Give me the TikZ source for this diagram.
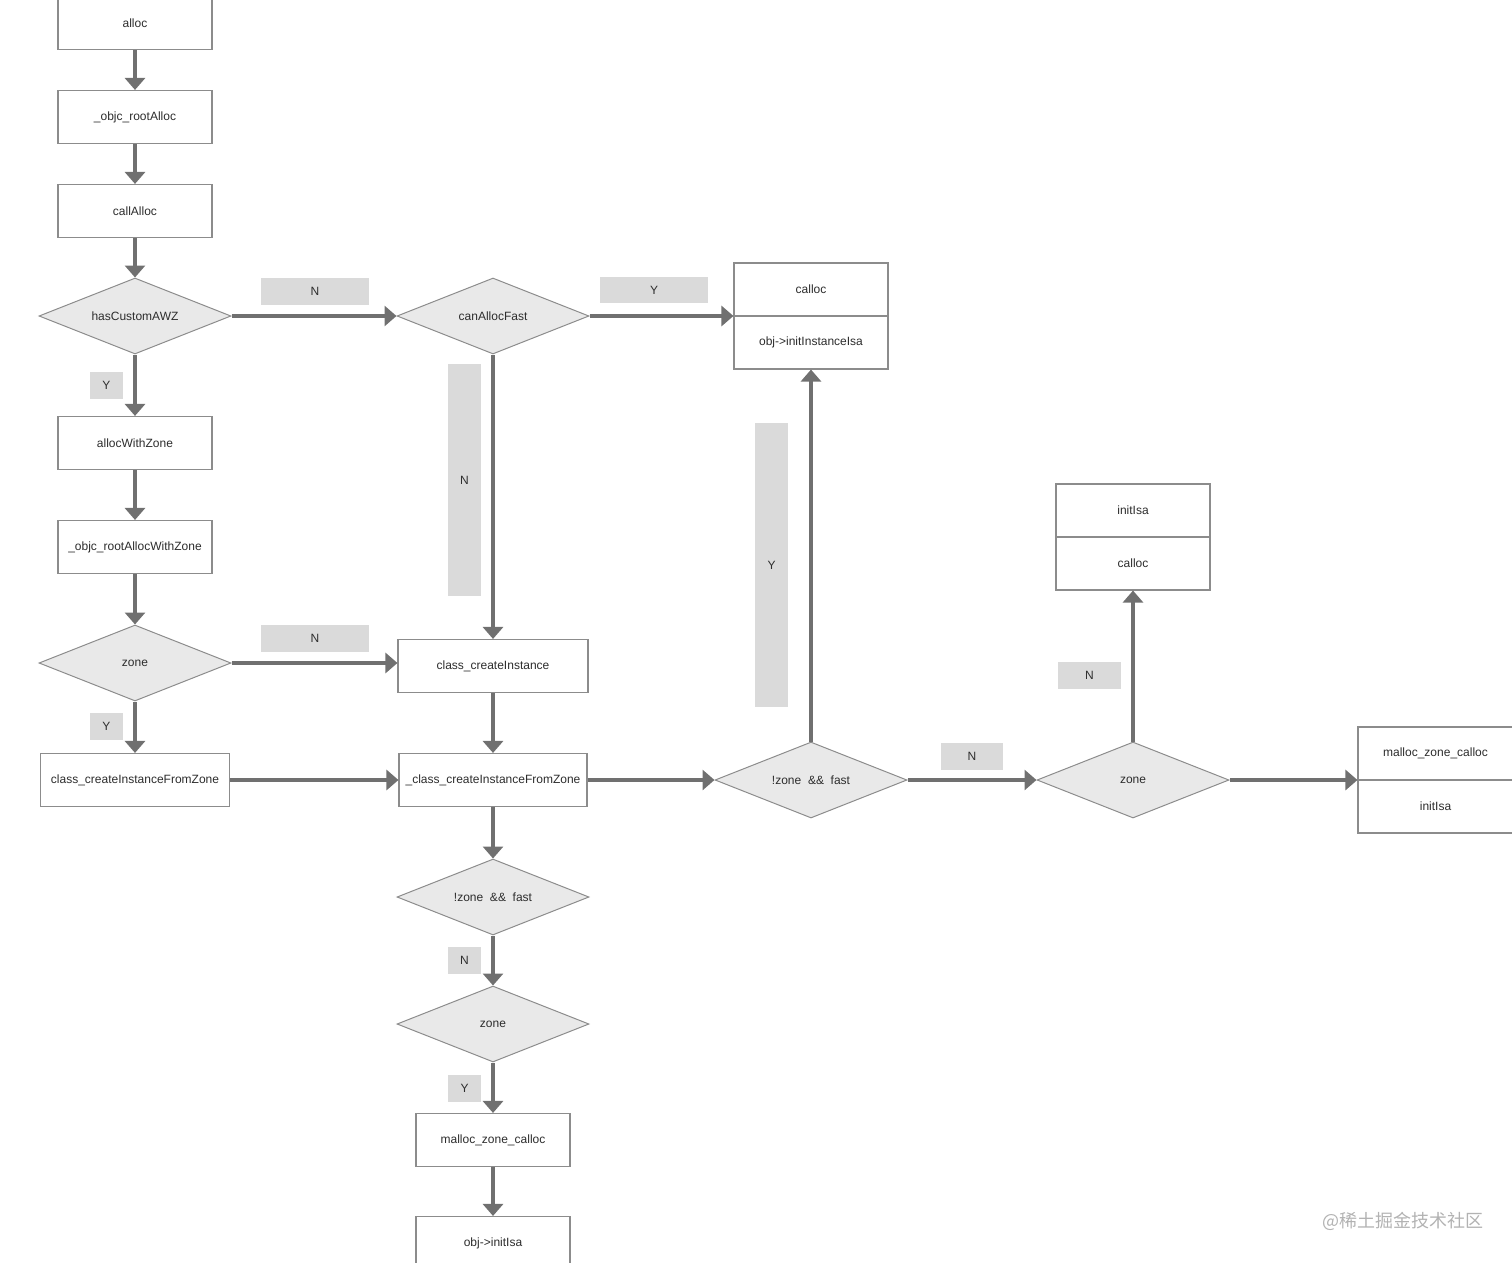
\documentclass[tikz,border=0pt]{standalone}
\usepackage{fontspec}
\setmainfont{Liberation Sans}
\newfontfamily\cjkfont{Noto Sans CJK SC}
\usetikzlibrary{shapes.geometric,arrows.meta,positioning}
\definecolor{fcLine}{RGB}{112,112,112}
\definecolor{fcBorder}{RGB}{140,140,140}
\definecolor{fcText}{RGB}{45,45,45}
\definecolor{fcDiamond}{RGB}{233,233,233}
\definecolor{fcLabel}{RGB}{218,218,218}
\definecolor{fcMark}{RGB}{178,178,178}

\begin{document}
\begin{tikzpicture}[
  x=1pt, y=-1pt,
  font=\fontsize{12}{14}\selectfont,
  box/.style={draw=fcBorder, line width=1.1pt, fill=white, text=fcText, minimum width=154pt, minimum height=53pt, inner sep=0pt},
  cond/.style={diamond, aspect=2.5, draw=fcBorder, line width=1pt, fill=fcDiamond, text=fcText, minimum width=192pt, minimum height=76pt, inner sep=0pt},
  yn/.style={fill=fcLabel, text=fcText, minimum width=33pt, minimum height=27pt, inner sep=0pt},
  arr/.style={-{Triangle[length=12pt,width=20pt]}, line width=4pt, draw=fcLine},
]
\useasboundingbox (0,0) rectangle (1512,1263);
% left column
\node[box] (alloc) at (135,23) {alloc};
\node[box] (rootalloc) at (135,117) {\_objc\_rootAlloc};
\node[box] (callalloc) at (135,211) {callAlloc};
\node[cond] (custom) at (135,316) {hasCustomAWZ};
\node[box] (withzone) at (135,443) {allocWithZone};
\node[box] (rootzone) at (135,547) {\_objc\_rootAllocWithZone};
\node[cond] (zoneA) at (135,663) {zone};
\node[box, minimum width=189pt] (fromzone) at (135,780) {class\_createInstanceFromZone};
% middle column
\node[cond] (canfast) at (493,316) {canAllocFast};
\node[box, minimum width=190pt] (create) at (493,666) {class\_createInstance};
\node[box, minimum width=188pt] (innerzone) at (493,780) {\_class\_createInstanceFromZone};
\node[cond] (fastB) at (493,897) {!zone\ \ \&\&\ \ fast};
\node[cond] (zoneB) at (493,1024) {zone};
\node[box] (zcallocB) at (493,1140) {malloc\_zone\_calloc};
\node[box] (initisaB) at (493,1243) {obj->initIsa};
% fast path
\node[box] (callocC) at (811,289.5) {calloc};
\node[box] (instisaC) at (811,342.5) {obj->initInstanceIsa};
\node[cond] (fastC) at (811,780) {!zone\ \ \&\&\ \ fast};
% zone checks
\node[box] (initisaD) at (1133,510.5) {initIsa};
\node[box] (callocD) at (1133,563.5) {calloc};
\node[cond] (zoneD) at (1133,780) {zone};
\node[box, minimum width=155pt] (zcallocE) at (1435.5,753.5) {malloc\_zone\_calloc};
\node[box, minimum width=155pt] (initisaE) at (1435.5,806.5) {initIsa};
% branch labels
\node[yn, minimum width=108pt] (nA) at (315,291) {N};
\node[yn] (yA) at (106.5,385) {Y};
\node[yn, minimum width=108pt, minimum height=26pt] (yB) at (654,290) {Y};
\node[yn, minimum height=232pt] (nB) at (464.5,480) {N};
\node[yn, minimum height=284pt] (yC) at (771.5,565) {Y};
\node[yn, minimum width=108pt] (nC) at (315,638) {N};
\node[yn] (yD) at (106.5,726.5) {Y};
\node[yn, minimum width=62pt] (nD) at (972,756) {N};
\node[yn, minimum width=63pt] (nE) at (1089.5,675) {N};
\node[yn] (nF) at (464.5,960.5) {N};
\node[yn] (yF) at (464.5,1088) {Y};
% connectors
\draw[arr] (alloc) -- (rootalloc);
\draw[arr] (rootalloc) -- (callalloc);
\draw[arr] (callalloc) -- (custom);
\draw[arr] (custom) -- (canfast);
\draw[arr] (custom) -- (withzone);
\draw[arr] (canfast.east) -- (canfast.east -| callocC.west);
\draw[arr] (canfast) -- (create);
\draw[arr] (withzone) -- (rootzone);
\draw[arr] (rootzone) -- (zoneA);
\draw[arr] (zoneA) -- (zoneA -| create.west);
\draw[arr] (zoneA) -- (fromzone);
\draw[arr] (fromzone) -- (innerzone);
\draw[arr] (create) -- (innerzone);
\draw[arr] (innerzone) -- (fastC);
\draw[arr] (innerzone) -- (fastB);
\draw[arr] (fastB) -- (zoneB);
\draw[arr] (zoneB) -- (zcallocB);
\draw[arr] (zcallocB) -- (initisaB);
\draw[arr] (fastC) -- (instisaC);
\draw[arr] (fastC) -- (zoneD);
\draw[arr] (zoneD) -- (callocD);
\draw[arr] (zoneD.east) -- (zoneD.east -| zcallocE.west);
% watermark
\node[anchor=west, text=fcMark, font=\cjkfont\fontsize{18}{21}\selectfont] (mark) at (1319,1221) {@稀土掘金技术社区};
\end{tikzpicture}
\end{document}
